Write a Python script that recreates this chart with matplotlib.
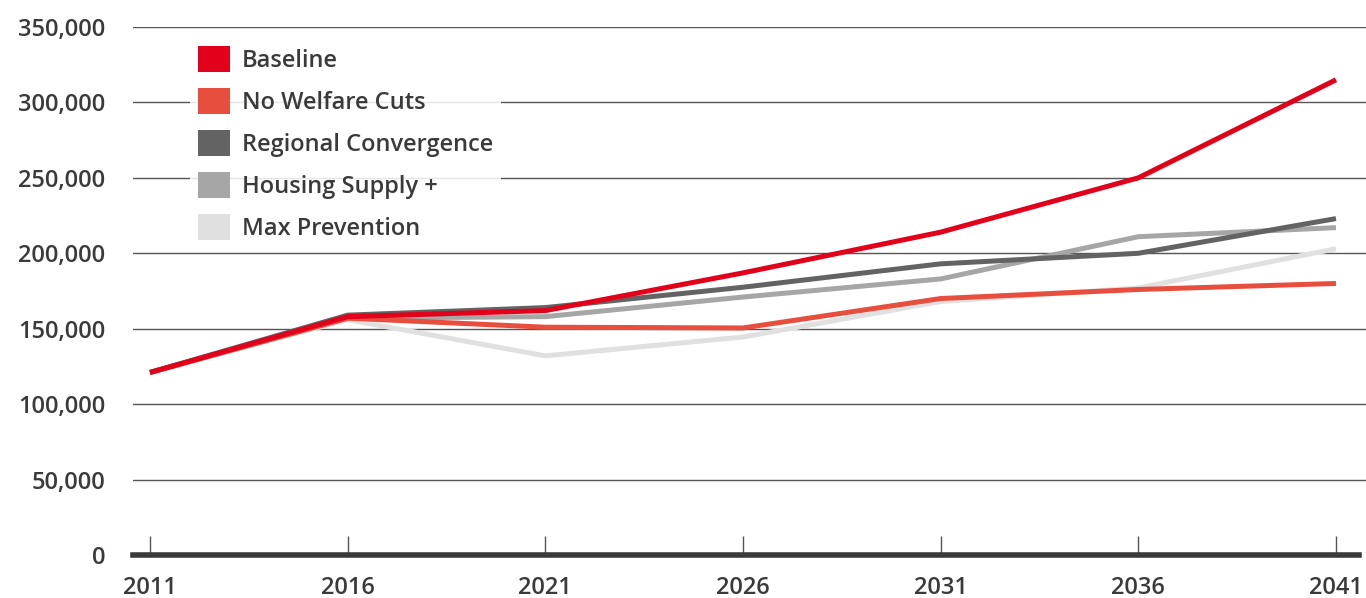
import matplotlib
matplotlib.use("Agg")
import matplotlib.pyplot as plt
from matplotlib.patches import Patch

years = [2011, 2016, 2021, 2026, 2031, 2036, 2041]
baseline = [121000, 158000, 162000, 187000, 214000, 250000, 315000]
no_welfare_cuts = [121000, 157000, 151000, 150500, 170000, 176000, 180000]
regional_convergence = [121000, 159000, 164000, 177500, 193000, 200000, 223000]
housing_supply = [121000, 157000, 158000, 171000, 183000, 211000, 217000]
max_prevention = [121000, 156000, 132000, 144500, 168000, 177000, 203000]

labels = ["Baseline", "No Welfare Cuts", "Regional Convergence",
          "Housing Supply +", "Max Prevention"]
colors = ["#e2001a", "#e84e3e", "#636363", "#a6a6a6", "#e0e0e0"]
series = [baseline, no_welfare_cuts, regional_convergence,
          housing_supply, max_prevention]

plt.rcParams["font.family"] = ["Open Sans", "DejaVu Sans"]
text_color = "#3a3a3a"

fig = plt.figure(figsize=(13.66, 5.98), dpi=100)
ax = fig.add_axes([133 / 1366, 43 / 598, 1233 / 1366, 528 / 598])

# draw lightest first so baseline sits on top
for vals, c in reversed(list(zip(series, colors))):
    ax.plot(years, vals, color=c, lw=3.6, solid_capstyle="butt",
            solid_joinstyle="miter", zorder=3)

ax.set_xlim(2010.57, 2041.76)
ax.set_ylim(0, 350000)
ax.set_xticks(years)
ax.set_yticks(range(0, 350001, 50000))
ax.set_yticklabels([f"{v:,}" for v in range(0, 350001, 50000)])

for v in range(50000, 350001, 50000):
    ax.axhline(v, color="#555555", lw=1, zorder=1)
ax.axhline(0, xmax=0.994, color="#3a3a3a", lw=4, zorder=4, clip_on=False)

for s in ax.spines.values():
    s.set_visible(False)
ax.tick_params(axis="x", direction="in", length=14, width=1, color="#555555",
               pad=15, labelsize=17, labelcolor=text_color)
ax.tick_params(axis="y", length=0, pad=20, labelsize=17, labelcolor=text_color)
for t in ax.get_xticklabels() + ax.get_yticklabels():
    t.set_fontweight("semibold")

handles = [Patch(facecolor=c, edgecolor="none") for c in colors]
leg = ax.legend(handles, labels, loc="upper left",
                bbox_to_anchor=(190 / 1366, 1 - 38 / 598),
                bbox_transform=fig.transFigure, borderaxespad=0,
                fontsize=17, handlelength=1.35, handleheight=1.3,
                handletextpad=0.5, labelspacing=0.64, borderpad=0.35,
                frameon=True, fancybox=False, framealpha=0.85,
                edgecolor="none", facecolor="white")
leg.set_zorder(2)
for t in leg.get_texts():
    t.set_color(text_color)
    t.set_fontweight("semibold")

fig.savefig("out.png", dpi=100)
